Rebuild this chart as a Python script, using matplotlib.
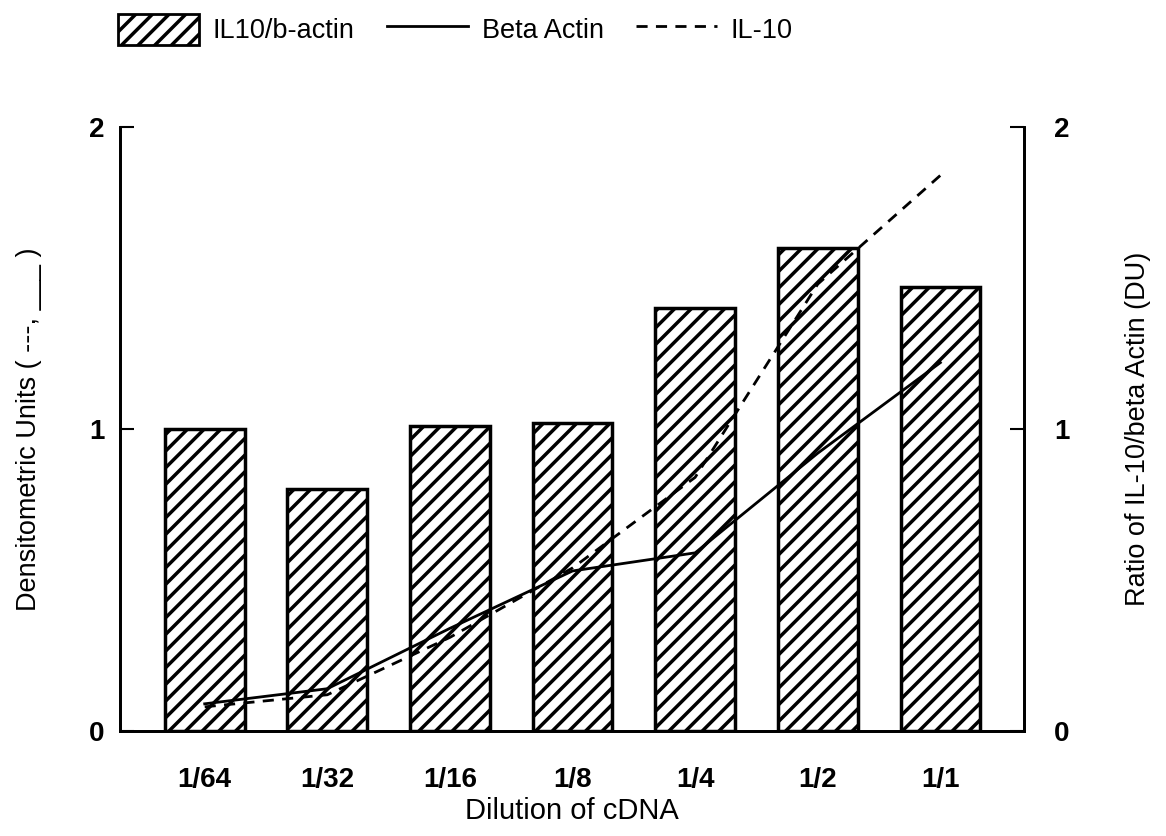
import matplotlib.pyplot as plt
from matplotlib.patches import Patch
from matplotlib.lines import Line2D

plt.rcParams['font.family'] = ['Liberation Sans', 'DejaVu Sans']
plt.rcParams['hatch.linewidth'] = 2.5

dilutions = ['1/64', '1/32', '1/16', '1/8', '1/4', '1/2', '1/1']
ratio = [1.00, 0.80, 1.01, 1.02, 1.40, 1.60, 1.47]          # IL10/b-actin bars
beta_actin = [0.09, 0.14, 0.34, 0.53, 0.59, 0.92, 1.22]     # solid line
il10 = [0.08, 0.12, 0.31, 0.54, 0.84, 1.48, 1.84]           # dashed line

x = list(range(len(dilutions)))

fig = plt.figure(figsize=(11.66, 8.36), dpi=100)
ax = fig.add_axes([0.103, 0.1256, 0.775, 0.7224])
ax2 = ax.twinx()

# bars on the right axis (ratio)
ax2.bar(x, ratio, width=0.65, color='white', edgecolor='black',
        linewidth=2.5, hatch='//')

# lines on the left axis (densitometric units)
ax.plot(x, beta_actin, color='black', lw=2, zorder=5)
ax.plot(x, il10, color='black', lw=2, dashes=(4, 3), zorder=5)
ax.set_zorder(ax2.get_zorder() + 1)
ax.patch.set_visible(False)

for a in (ax, ax2):
    a.set_ylim(0, 2)
    a.set_yticks([0, 1, 2])
    a.set_xlim(-0.69, 6.68)
    a.spines['top'].set_visible(False)
    for s in a.spines.values():
        s.set_linewidth(2)
    a.tick_params(axis='y', direction='in', length=10, width=1.5, labelsize=20)
    for lab in a.get_yticklabels():
        lab.set_fontweight('bold')
ax.tick_params(axis='y', pad=11)
ax2.tick_params(axis='y', pad=22)

ax.set_xticks(x)
ax.set_xticklabels(dilutions, fontsize=20, fontweight='bold')
ax.tick_params(axis='x', length=0, pad=26)
ax2.tick_params(axis='x', length=0)

ax.set_xlabel('Dilution of cDNA', fontsize=21, labelpad=3)
ax.set_ylabel('Densitometric Units ( ---, ___ )', fontsize=19.5, labelpad=34)
ax2.set_ylabel('Ratio of IL-10/beta Actin (DU)', fontsize=19.5, labelpad=40)

handles = [
    Patch(facecolor='white', edgecolor='black', hatch='//', linewidth=2),
    Line2D([0], [0], color='black', lw=2),
    Line2D([0], [0], color='black', lw=2, dashes=(4, 3)),
]
labels = ['IL10/b-actin', 'Beta Actin', 'IL-10']
fig.legend(handles, labels, loc='upper left', bbox_to_anchor=(0.08, 1.013),
           ncol=3, frameon=False, fontsize=19.5, handlelength=3.0,
           handleheight=1.4, columnspacing=1.2, handletextpad=0.5)

fig.savefig('out.png', dpi=100)
